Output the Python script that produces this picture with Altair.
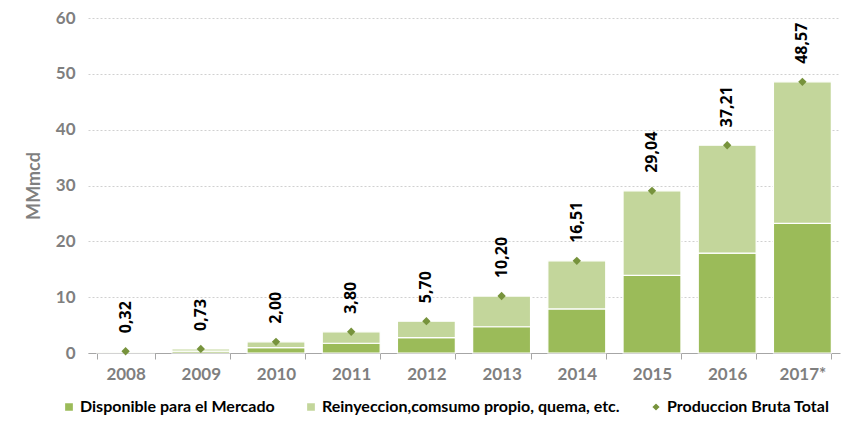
import altair as alt
import pandas as pd

years = ["2008", "2009", "2010", "2011", "2012", "2013", "2014", "2015", "2016", "2017*"]
disponible = [0.15, 0.35, 0.95, 1.75, 2.75, 4.70, 7.90, 13.90, 17.90, 23.20]
reinyeccion = [0.17, 0.38, 1.05, 2.05, 2.95, 5.50, 8.61, 15.14, 19.31, 25.37]
totales = [0.32, 0.73, 2.00, 3.80, 5.70, 10.20, 16.51, 29.04, 37.21, 48.57]
total_labels = ["0,32", "0,73", "2,00", "3,80", "5,70", "10,20", "16,51", "29,04", "37,21", "48,57"]

s_disp = "Disponible para el Mercado"
s_rein = "Reinyeccion,comsumo propio, quema, etc."
s_prod = "Produccion Bruta Total"
series_names = [s_disp, s_rein, s_prod]
series_colors = ["#9bbb59", "#c3d69b", "#77933c"]
series_shapes = ["square", "square", "diamond"]

bars = pd.DataFrame({
    "year": years * 2,
    "serie": [s_disp] * len(years) + [s_rein] * len(years),
    "value": disponible + reinyeccion,
    "orden": [0] * len(years) + [1] * len(years),
})
tot = pd.DataFrame({"year": years, "serie": [s_prod] * len(years),
                    "value": totales, "label": total_labels})

x = alt.X("year:N", sort=years, title=None,
          scale=alt.Scale(paddingInner=0.23, paddingOuter=0.115),
          axis=alt.Axis(labelAngle=0, tickBand="extent", domainColor="#a6a6a6",
                        tickColor="#a6a6a6", tickSize=6, labelColor="#7f7f7f",
                        labelFont="Lato", labelFontWeight="bold", labelFontSize=17,
                        labelPadding=7))
yscale = alt.Scale(domain=[0, 60])
leg = dict(title=None, orient="none", direction="horizontal",
           legendX=-27, legendY=381, labelFont="Lato",
           labelFontWeight="bold", labelFontSize=16,
           labelColor="#000000", symbolSize=85,
           columnPadding=28, labelLimit=500, symbolOpacity=1, labelOffset=3)
color = alt.Color("serie:N", scale=alt.Scale(domain=series_names, range=series_colors),
                  legend=alt.Legend(**leg))
shape = alt.Shape("serie:N", scale=alt.Scale(domain=series_names, range=series_shapes),
                  legend=alt.Legend(**leg))

bar = alt.Chart(bars).mark_bar(stroke="white", strokeWidth=1.2).encode(
    x=x,
    y=alt.Y("value:Q", stack="zero", scale=yscale, title="MMmcd",
            axis=alt.Axis(values=[0, 10, 20, 30, 40, 50, 60], domain=False, ticks=False,
                          gridColor="#d0d0d0", gridDash=[2, 2], labelColor="#7f7f7f",
                          labelFont="Lato", labelFontWeight="bold", labelFontSize=17,
                          labelPadding=13, titleColor="#7f7f7f", titleFont="Lato",
                          titleFontWeight="bold", titleFontSize=18, titlePadding=12)),
    color=color,
    order=alt.Order("orden:Q"),
)

pts = alt.Chart(tot).mark_point(filled=True, opacity=1, size=70).encode(
    x=x, y=alt.Y("value:Q", scale=yscale), color=color, shape=shape)

txt = alt.Chart(tot).mark_text(angle=270, align="left", baseline="middle", dx=18,
                               font="Open Sans", fontWeight="bold", fontSize=16,
                               color="#000000").encode(
    x=x, y=alt.Y("value:Q", scale=yscale), text="label:N")

chart = alt.layer(bar, pts, txt).properties(
    width=752, height=335,
    autosize=alt.AutoSizeParams(type="none"),
    padding={"left": 80, "top": 10, "right": 10, "bottom": 71},
).configure_view(stroke=None).configure_axis(grid=True).configure_axisX(grid=False)

chart.save("out.html", embed_options={"renderer": "svg", "actions": False})
